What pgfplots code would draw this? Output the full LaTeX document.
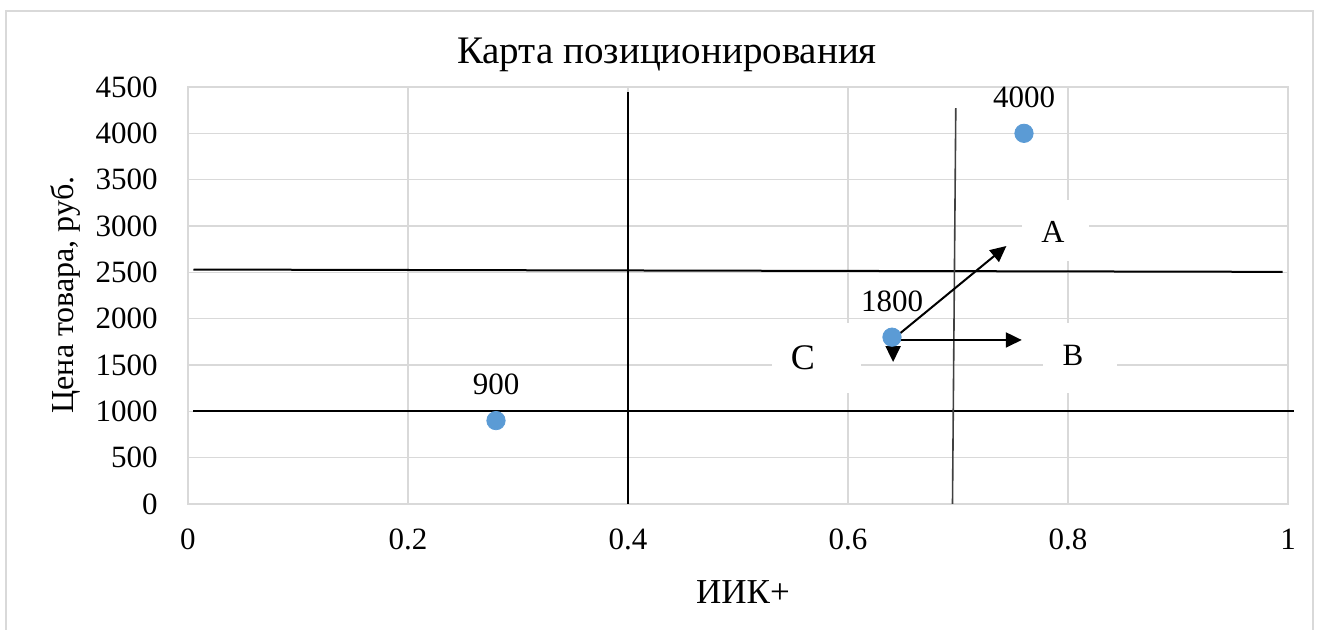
\documentclass[border=0pt]{standalone}
\usepackage{fontspec}
\setmainfont{Liberation Serif}
\usepackage{pgfplots}
\pgfplotsset{compat=1.18}
\usetikzlibrary{arrows.meta}

\definecolor{gridgray}{HTML}{D9D9D9}
\definecolor{pointblue}{HTML}{5B9BD5}

\begin{document}
\begin{tikzpicture}
\useasboundingbox (0,0) rectangle (659.5pt,315pt);
% chart frame
\draw[gridgray, line width=1pt] (3pt,-10pt) rectangle (656.5pt,309.5pt);

\begin{axis}[
  at={(94pt,63pt)}, anchor=south west,
  scale only axis, width=550pt, height=208.5pt,
  xmin=0, xmax=1, ymin=0, ymax=4500,
  xtick={0,0.2,0.4,0.6,0.8,1},
  ytick={0,500,...,4500},
  grid=major,
  major grid style={gridgray, line width=0.75pt},
  axis line style={gridgray, line width=0.75pt},
  tick style={draw=none},
  clip=false,
  /pgf/number format/assume math mode=true,
  /pgf/number format/1000 sep={},
  tick label style={font=\fontsize{15.5}{18}\selectfont, inner sep=0pt},
  xticklabel style={anchor=base, yshift=-23pt},
  yticklabel style={anchor=east, xshift=-15pt},
]
% quadrant boundaries
\addplot[black, line width=1pt] coordinates {(0.005,2530) (0.995,2505)};
\addplot[black, line width=1pt] coordinates {(0.005,1000) (1.005,1000)};
\addplot[black, line width=1pt] coordinates {(0.4,0) (0.4,4446)};
\addplot[black!75, line width=0.8pt] coordinates {(0.695,0) (0.698,4273)};

% products
\addplot[only marks, mark=*, mark size=4.6pt,
  mark options={draw=pointblue, fill=pointblue},
  nodes near coords,
  every node near coord/.append style={font=\fontsize{15.5}{18}\selectfont,
    anchor=base, yshift=13pt, inner sep=0pt, text=black}]
  coordinates {(0.28,900) (0.64,1800) (0.76,4000)};

% movement directions
\addplot[black, line width=1pt, -{Triangle[length=8pt,width=7.5pt]}]
  coordinates {(0.64,1770) (0.744,2784)};
\addplot[black, line width=1pt, -{Triangle[length=8pt,width=7.5pt]}]
  coordinates {(0.64,1770) (0.758,1770)};
\addplot[black, line width=1pt, -{Triangle[length=8pt,width=7.5pt]}]
  coordinates {(0.641,1770) (0.641,1532)};

% direction labels
\node[fill=white, minimum width=33.5pt, minimum height=30.5pt, inner sep=0pt]
  at (axis cs:0.7886,2951) {};
\node[fill=white, minimum width=37pt, minimum height=35pt, inner sep=0pt]
  at (axis cs:0.811,1575) {};
\node[fill=white, minimum width=44.5pt, minimum height=35pt, inner sep=0pt]
  at (axis cs:0.5714,1575) {};
\node[font=\fontsize{16}{18}\selectfont, inner sep=0pt] at (axis cs:0.7864,2935) {A};
\node[font=\fontsize{15.5}{18}\selectfont, inner sep=0pt] at (axis cs:0.8045,1608) {B};
\node[font=\fontsize{18}{20}\selectfont, inner sep=0pt] at (axis cs:0.559,1576) {C};
\end{axis}

\node[font=\fontsize{19.5}{22}\selectfont] at (333.5pt,287.5pt) {Карта позиционирования};
\node[font=\fontsize{16}{18}\selectfont, rotate=90] at (32.5pt,167.5pt) {Цена товара, руб.};
\node[font=\fontsize{17.5}{20}\selectfont] at (371.5pt,19pt) {ИИК+};
\end{tikzpicture}
\end{document}
